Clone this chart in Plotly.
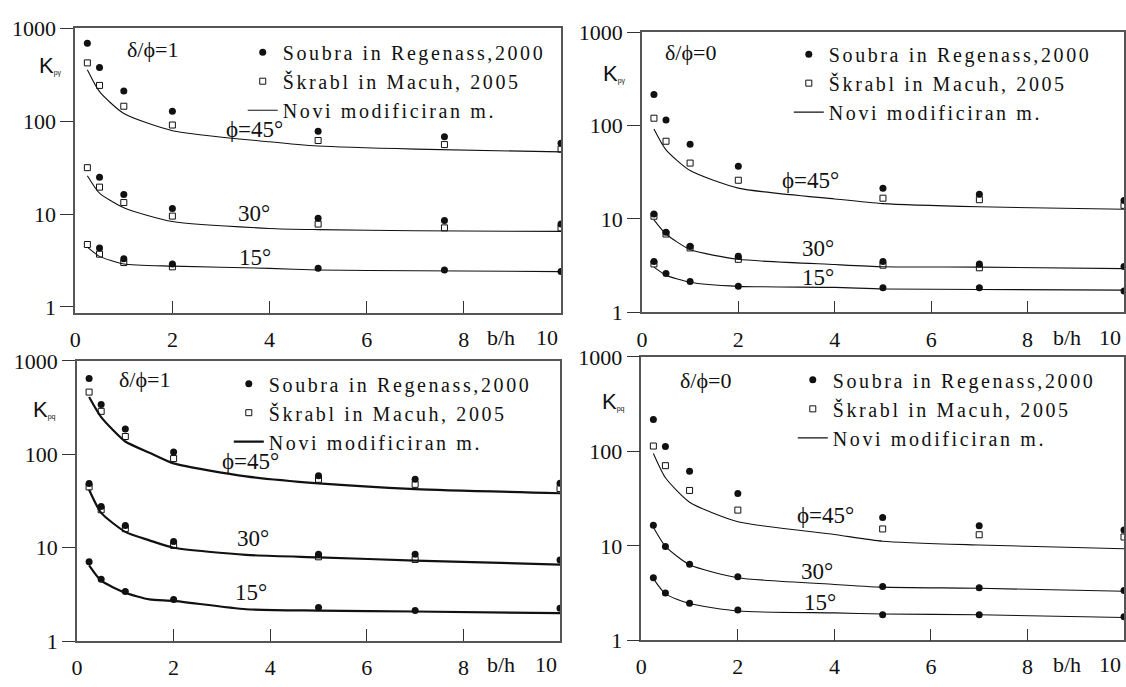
import plotly.graph_objects as go

W, H = 1126, 687

# ---------------- data ----------------
x_pts = [0.25, 0.5, 1, 2, 5, 7, 10]
x_pts_p1 = [0.25, 0.5, 1, 2, 5, 7.6, 10]
x_line = [0.25, 0.5, 1, 2, 4, 5, 7, 10]
x_line_p3 = [0.25, 0.5, 1, 1.5, 2, 3.5, 5, 7, 10]

# Panel 1: K_pγ, δ/ϕ=1
p1_soubra = {45: [690, 378, 211, 128, 78, 68, 58],
             30: [None, 24.9, 16.2, 11.5, 9.0, 8.5, 7.8],
             15: [None, 4.3, 3.3, 2.9, 2.6, 2.5, 2.4]}
p1_skrabl = {45: [425, 243, 145, 91, 62, 56, 50],
             30: [31.6, 19.5, 13.3, 9.5, 7.8, 7.1, 7.1],
             15: [4.7, 3.7, 3.0, 2.7, None, None, None]}
p1_novi = {45: [358, 208, 121, 79, 60, 54, 50, 46.7],
           30: [25.9, 16.8, 11.7, 8.3, 7.0, 6.8, 6.6, 6.5],
           15: [4.4, 3.5, 2.9, 2.75, 2.6, 2.5, 2.45, 2.4]}

# Panel 2: K_pγ, δ/ϕ=0
p2_soubra = {45: [216, 115, 63, 36.6, 21.3, 18.4, 15.8],
             30: [11.3, 7.2, 5.1, 4.0, 3.5, 3.3, 3.1],
             15: [3.5, 2.6, 2.14, 1.9, 1.83, 1.83, 1.69]}
p2_skrabl = {45: [120, 68, 39.7, 26, 16.7, 16.1, 14],
             30: [10.7, 6.9, 4.9, 3.7, 3.2, 3.0, None],
             15: [3.3, None, None, None, None, None, None]}
p2_novi = {45: [92, 55, 33, 21.4, 16.4, 14.6, 13.5, 12.7],
           30: [9.8, 6.9, 4.7, 3.7, 3.25, 3.08, 3.05, 2.94],
           15: [3.05, 2.5, 2.1, 1.9, 1.85, 1.78, 1.76, 1.73]}

# Panel 3: K_pq, δ/ϕ=1
p3_soubra = {45: [646, 342, 186, 106, 59, 54, 49],
             30: [48.7, 27.6, 17.3, 11.7, 8.5, 8.5, 7.4],
             15: [7.1, 4.6, 3.4, 2.8, 2.3, 2.13, 2.25]}
p3_skrabl = {45: [463, 288, 155, 90, 54, 47.7, 43],
             30: [44.8, 25.5, 16, 10.6, 8.0, 7.5, None],
             15: [None, None, None, None, None, None, None]}
p3_novi = {45: [410, 250, 137, 104, 80, 58, 48.8, 42.4, 38.3],
           30: [41.7, 23.6, 14.8, 12, 10, 8.4, 7.9, 7.3, 6.6],
           15: [6.5, 4.45, 3.3, 2.8, 2.7, 2.2, 2.13, 2.08, 2.0]}

# Panel 4: K_pq, δ/ϕ=0
p4_soubra = {45: [218, 113, 61.5, 35.8, 20, 16.3, 14.7],
             30: [16.5, 9.85, 6.4, 4.7, 3.7, 3.6, 3.37],
             15: [4.6, 3.16, 2.46, 2.09, 1.86, 1.86, 1.77]}
p4_skrabl = {45: [114, 70.6, 38.6, 23.9, 15.1, 13.1, 12.4],
             30: [None] * 7,
             15: [None] * 7}
p4_novi = {45: [95, 52.6, 29, 18, 13.2, 11.2, 10.2, 9.3],
           30: [15.7, 9.85, 6.3, 4.6, 3.9, 3.65, 3.55, 3.3],
           15: [4.5, 3.1, 2.45, 2.04, 1.95, 1.9, 1.86, 1.74]}

phis = [45, 30, 15]
phi_labels = ["ϕ=45°", "30°", "15°"]
y_tickvals = [1, 10, 100, 1000]
y_ticktext = ["1", "10", "100", "1000"]
x_tickvals = [0, 2, 4, 6, 8]
x_ticktext = ["0", "2", "4", "6", "8"]

legend_names = ["Soubra in Regenass,2000", "Škrabl in Macuh, 2005", "Novi modificiran m."]

SERIF = "Liberation Serif, Times New Roman, DejaVu Serif, serif"
SANS = "Liberation Sans, Arial, DejaVu Sans, sans-serif"
INK = "#111111"


def px_x(p):
    return p / W


def px_y(p):
    return 1 - p / H


def spaced(t):
    return f"<span style='letter-spacing:2.6px'>{t}</span>"


panels = [
    dict(n=1, xd=(69.6, 558), yd=(17, 312), ylo=-0.062, xp=x_pts_p1, xl=x_line,
         s=p1_soubra, k=p1_skrabl, l=p1_novi, lw=1.1, lg=(238, 21.5),
         kpos=(31, 56), ksub="pγ", dpos=(147, 39), dtxt="δ/ϕ=1",
         phipos=[(250, 122), (249, 209), (250, 255)], lab_y=338, bh=498),
    dict(n=2, xd=(639.3, 1124), yd=(21, 311.7), ylo=0, xp=x_pts, xl=x_line,
         s=p2_soubra, k=p2_skrabl, l=p2_novi, lw=1.1, lg=(787, 23.5),
         kpos=(598, 64), ksub="pγ", dpos=(688, 42), dtxt="δ/ϕ=0",
         phipos=[(809, 175), (816, 245), (816, 276)], lab_y=338, bh=1067),
    dict(n=3, xd=(71.4, 557), yd=(362, 653), ylo=0, xp=x_pts, xl=x_line_p3,
         s=p3_soubra, k=p3_skrabl, l=p3_novi, lw=2.2, lg=(224, 365.5),
         kpos=(25, 413), ksub="pq", dpos=(139, 381), dtxt="δ/ϕ=1",
         phipos=[(246, 466), (248, 546), (246, 602)], lab_y=677, bh=498),
    dict(n=4, xd=(638.7, 1124), yd=(358, 652), ylo=0, xp=x_pts, xl=x_line,
         s=p4_soubra, k=p4_skrabl, l=p4_novi, lw=1.1, lg=(791, 361.5),
         kpos=(597, 404), ksub="pq", dpos=(703, 382), dtxt="δ/ϕ=0",
         phipos=[(824, 522), (815, 581), (818, 613)], lab_y=677, bh=1067),
]

fig = go.Figure()
annotations = []
layout = {}

for p in panels:
    n = p["n"]
    xa = "x" if n == 1 else f"x{n}"
    ya = "y" if n == 1 else f"y{n}"
    lgname = "legend" if n == 1 else f"legend{n}"
    for i, phi in enumerate(phis):
        show = (i == 0)
        fig.add_trace(go.Scatter(
            x=p["xp"], y=p["s"][phi], mode="markers", name=spaced(legend_names[0]),
            marker=dict(symbol="circle", size=7, color=INK),
            xaxis=xa, yaxis=ya, legend=lgname, showlegend=show, legendrank=1))
        fig.add_trace(go.Scatter(
            x=p["xp"], y=p["k"][phi], mode="markers", name=spaced(legend_names[1]),
            marker=dict(symbol="square-open", size=6, color=INK,
                        line=dict(width=1, color=INK)),
            xaxis=xa, yaxis=ya, legend=lgname, showlegend=show, legendrank=2))
        fig.add_trace(go.Scatter(
            x=p["xl"], y=p["l"][phi], mode="lines", name=spaced(legend_names[2]),
            line=dict(color=INK, width=p["lw"], shape="spline", smoothing=0.6),
            xaxis=xa, yaxis=ya, legend=lgname, showlegend=show, legendrank=3))

    xkey = "xaxis" if n == 1 else f"xaxis{n}"
    ykey = "yaxis" if n == 1 else f"yaxis{n}"
    layout[xkey] = dict(
        domain=[px_x(p["xd"][0]), px_x(p["xd"][1])], range=[0, 10], anchor=ya,
        showgrid=False, zeroline=False, showline=True, mirror=True,
        linecolor="#555555", linewidth=1.5, ticks="inside", ticklen=12,
        tickcolor="#333333", tickwidth=1.2, tickvals=x_tickvals, ticktext=x_ticktext,
        tickfont=dict(family=SERIF, size=22, color=INK),
        ticklabelstandoff=6)
    layout[ykey] = dict(
        domain=[px_y(p["yd"][1]), px_y(p["yd"][0])], type="log",
        range=[p["ylo"], 3], anchor=xa,
        showgrid=False, zeroline=False, showline=True, mirror=True,
        linecolor="#555555", linewidth=1.5, ticks="outside", ticklen=13,
        tickcolor="#333333", tickwidth=1.2, tickvals=y_tickvals, ticktext=y_ticktext,
        tickfont=dict(family=SERIF, size=22, color=INK))
    layout[lgname] = dict(
        x=px_x(p["lg"][0]), y=px_y(p["lg"][1]), xanchor="left", yanchor="top",
        bgcolor="rgba(0,0,0,0)", borderwidth=0,
        font=dict(family=SERIF, size=20, color=INK),
        itemwidth=30, tracegroupgap=0)

    annotations.append(dict(
        x=px_x(p["kpos"][0]), y=px_y(p["kpos"][1]), xref="paper", yref="paper",
        xanchor="left", yanchor="middle", showarrow=False,
        text=f"K<span style='font-size:10px'><sub>{p['ksub']}</sub></span>",
        font=dict(family=SANS, size=22, color=INK)))
    annotations.append(dict(
        x=px_x(p["dpos"][0]), y=px_y(p["dpos"][1]), xref="paper", yref="paper",
        xanchor="center", yanchor="middle", showarrow=False, text=p["dtxt"],
        font=dict(family=SERIF, size=22, color=INK)))
    for txt, (ax_, ay_) in zip(phi_labels, p["phipos"]):
        annotations.append(dict(
            x=px_x(ax_), y=px_y(ay_), xref="paper", yref="paper",
            xanchor="center", yanchor="middle", showarrow=False, text=txt,
            font=dict(family=SERIF, size=23, color=INK)))
    annotations.append(dict(
        x=px_x(p["bh"]), y=px_y(p["lab_y"]), xref="paper", yref="paper",
        xanchor="center", yanchor="middle", showarrow=False, text="b/h",
        font=dict(family=SERIF, size=22, color=INK)))
    annotations.append(dict(
        x=px_x(p["xd"][1] - 1), y=px_y(p["lab_y"]), xref="paper", yref="paper",
        xanchor="right", yanchor="middle", showarrow=False, text="10",
        font=dict(family=SERIF, size=22, color=INK)))

fig.update_layout(
    width=W, height=H, margin=dict(l=0, r=0, t=0, b=0),
    paper_bgcolor="white", plot_bgcolor="white",
    annotations=annotations, **layout)

fig.write_html("out.html")
